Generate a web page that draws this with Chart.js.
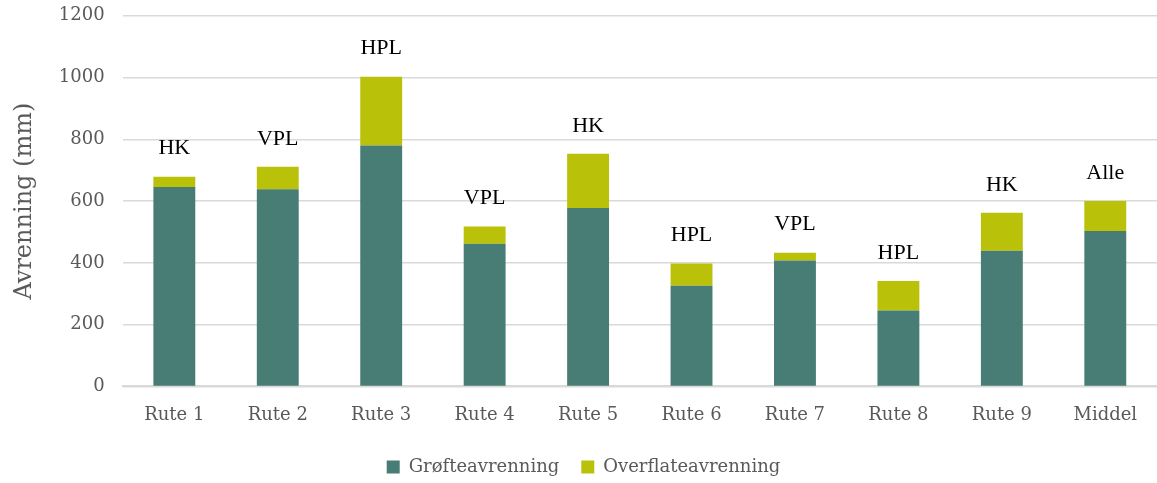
<!DOCTYPE html>
<html>
<head>
<meta charset="utf-8">
<script src="https://cdn.jsdelivr.net/npm/chart.js@4/dist/chart.umd.min.js"></script>
<style>
  body { margin: 0; background: #fff; overflow: hidden; }
  #wrap { width: 1157px; height: 499px; margin-top: -13px; }
</style>
</head>
<body>
<div id="wrap"><canvas id="grafica"></canvas></div>
<script>
const ruter = ['Rute 1', 'Rute 2', 'Rute 3', 'Rute 4', 'Rute 5', 'Rute 6', 'Rute 7', 'Rute 8', 'Rute 9', 'Middel'];
const grofteavrenning = [646, 638, 780, 462, 578, 326, 408, 246, 439, 503];
const overflateavrenning = [33, 73, 223, 56, 175, 72, 25, 95, 123, 97];
const merkelapper = ['HK', 'VPL', 'HPL', 'VPL', 'HK', 'HPL', 'VPL', 'HPL', 'HK', 'Alle'];
const yTicks = [0, 200, 400, 600, 800, 1000, 1200];

const skrift = '"DejaVu Serif", serif';
const merkeSkrift = '"Liberation Serif", "Times New Roman", serif';
const gra = '#595959';

// tekst over hver stolpe (HK, VPL ...)
const merkelappPlugin = {
  id: 'merkelapper',
  afterDatasetsDraw(chart) {
    const ctx = chart.ctx;
    const meta = chart.getDatasetMeta(1);
    ctx.save();
    ctx.font = '22px ' + merkeSkrift;
    ctx.fillStyle = '#000';
    ctx.textAlign = 'center';
    ctx.textBaseline = 'middle';
    meta.data.forEach((bar, i) => {
      ctx.fillText(merkelapper[i], bar.x, bar.y - 28);
    });
    ctx.restore();
  }
};

const canva_grafica = document.getElementById('grafica').getContext('2d');
new Chart(canva_grafica, {
  type: 'bar',
  data: {
    labels: ruter,
    datasets: [
      {
        label: 'Grøfteavrenning',
        data: grofteavrenning,
        backgroundColor: '#477D75',
        barPercentage: 0.405,
        categoryPercentage: 1
      },
      {
        label: 'Overflateavrenning',
        data: overflateavrenning,
        backgroundColor: '#B9C108',
        barPercentage: 0.405,
        categoryPercentage: 1
      }
    ]
  },
  options: {
    responsive: true,
    maintainAspectRatio: false,
    animation: false,
    layout: { padding: { top: 0, right: 0, left: 10, bottom: 0 } },
    plugins: {
      legend: {
        position: 'bottom',
        labels: {
          font: { family: skrift, size: 18 },
          color: gra,
          boxWidth: 13,
          boxHeight: 13,
          padding: 22
        }
      },
      tooltip: { enabled: false }
    },
    scales: {
      x: {
        stacked: true,
        grid: { display: false },
        border: { color: '#D9D9D9', width: 2 },
        ticks: { font: { family: skrift, size: 18 }, color: gra, padding: 10 }
      },
      y: {
        stacked: true,
        min: 0,
        max: 1200,
        afterBuildTicks: (axis) => { axis.ticks = yTicks.map(v => ({ value: v })); },
        grid: { color: '#D9D9D9', lineWidth: 1.5, drawTicks: false },
        border: { display: false },
        ticks: {
          font: { family: skrift, size: 18 },
          color: gra,
          padding: 18,
          callback: (v) => String(v)
        },
        title: {
          display: true,
          text: 'Avrenning (mm)',
          font: { family: skrift, size: 24 },
          color: gra,
          padding: { top: 0, bottom: 2 }
        }
      }
    }
  },
  plugins: [merkelappPlugin]
});
</script>
</body>
</html>
